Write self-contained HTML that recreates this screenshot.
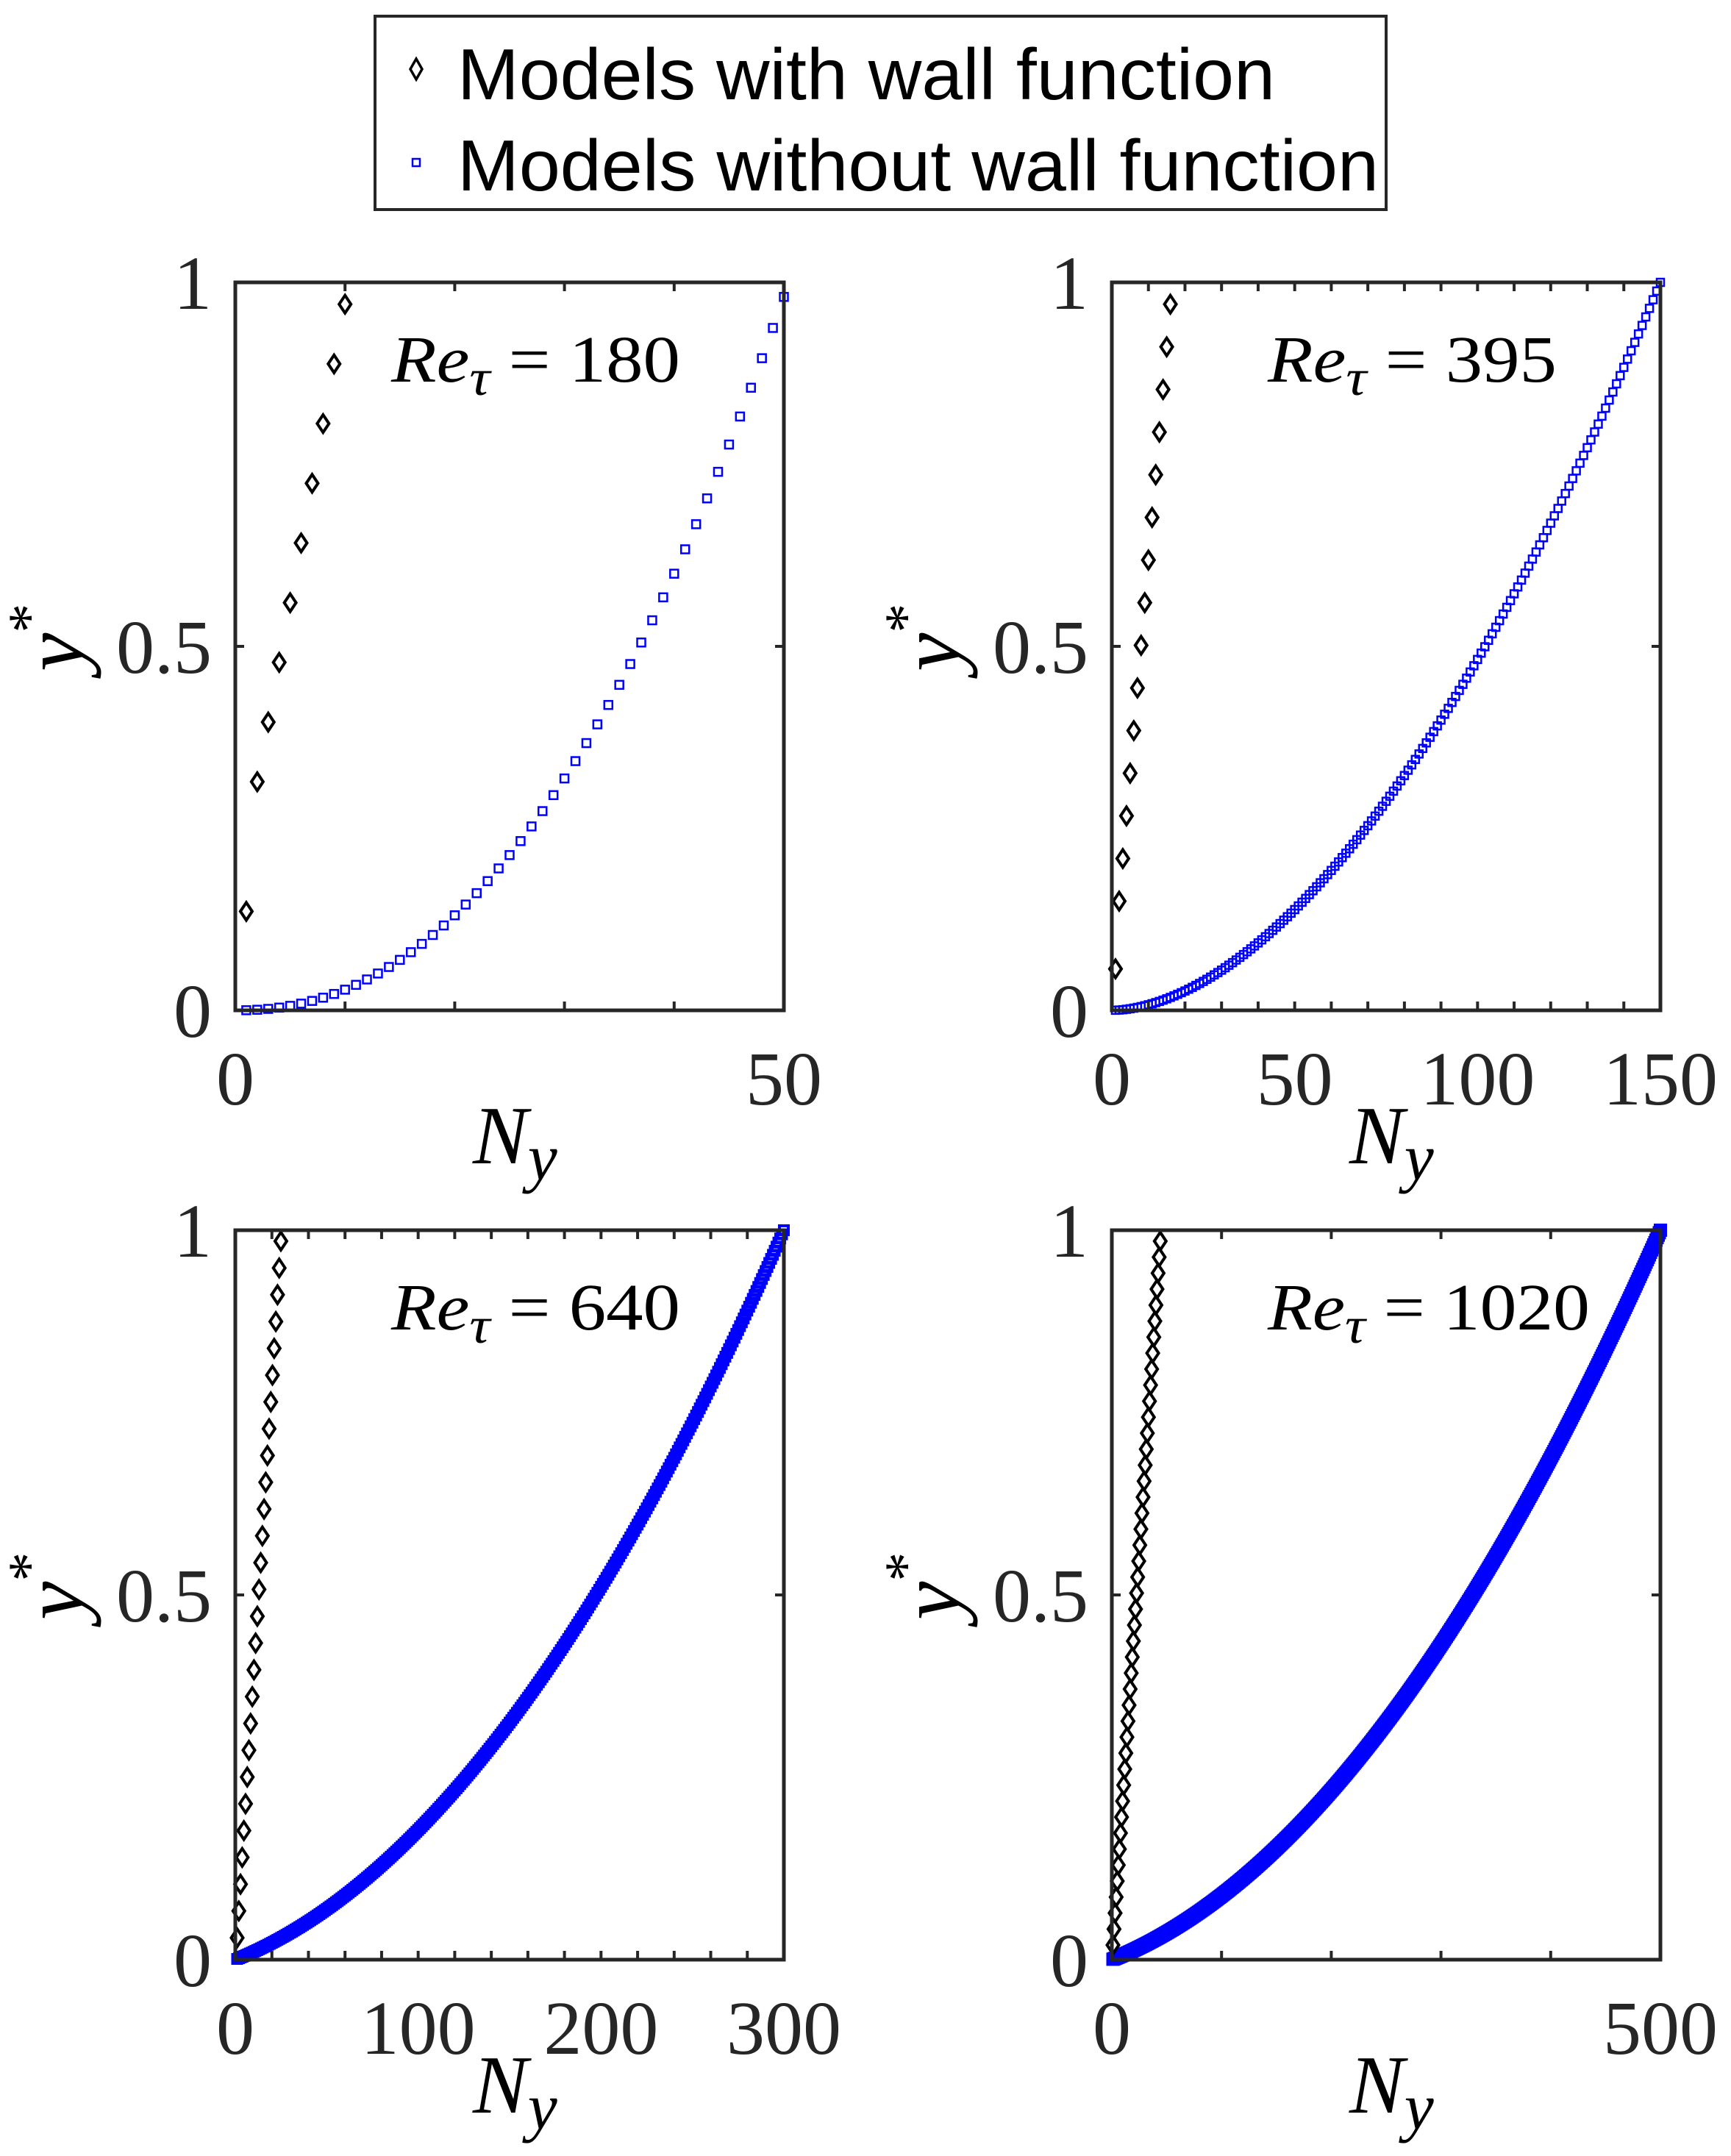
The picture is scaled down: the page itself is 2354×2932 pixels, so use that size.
<!DOCTYPE html>
<html><head><meta charset="utf-8"><style>html,body{margin:0;padding:0;background:#fff}svg{display:block}</style></head>
<body>
<svg id="s" xmlns="http://www.w3.org/2000/svg" width="2354" height="2932" viewBox="0 0 2354 2932">
<rect width="2354" height="2932" fill="#fff"/>
<rect x="510" y="22" width="1375" height="263" fill="#fff" stroke="#262626" stroke-width="4"/>
<path d="M566 80 L574 94 L566 108 L558 94 Z" fill="none" stroke="#000" stroke-width="3.5"/>
<rect x="561" y="216" width="10" height="10" fill="none" stroke="#0000ff" stroke-width="2.5"/>
<text x="622" y="135" font-family="Liberation Sans, sans-serif" font-size="98" textLength="1112" lengthAdjust="spacingAndGlyphs">Models with wall function</text>
<text x="622" y="259" font-family="Liberation Sans, sans-serif" font-size="98" textLength="1253" lengthAdjust="spacingAndGlyphs">Models without wall function</text>
<g id="g"></g>
</svg>
<script>
const g=document.getElementById('g');let h='';
const quad=t=>0.3*t+0.7*t*t;
const P=[
 {x0:320,x1:1066,t:384,b:1374,xmax:50,xt:10,xl:[0,50],re:'180',nd:10,nb:50,f:t=>0.98*Math.pow(t,2.2),dy0:0.136,dy1:0.314,sq:11,ylx:94,dstep:1},
 {x0:1512,x1:2258,t:384,b:1374,xmax:150,xt:10,xl:[0,50,100,150],re:'395',nd:16,nb:150,f:t=>Math.pow(t,1.8),dy0:0.057,dy1:0.15,sq:10,ylx:1286,dstep:1},
 {x0:320,x1:1066,t:1673,b:2665,xmax:300,xt:20,xl:[0,100,200,300],re:'640',nd:27,nb:300,f:quad,dy0:0.03,dy1:0.075,sq:12,ylx:94,dstep:0.92},
 {x0:1512,x1:2258,t:1673,b:2665,xmax:500,xt:100,xl:[0,500],re:'1020',nd:45,nb:500,f:quad,dy0:0.02,dy1:0.045,sq:14,ylx:1286,dstep:0.98}];
const ser='font-family="Liberation Serif, DejaVu Serif, serif"';
for(const q of P){
 const X=v=>q.x0+(q.x1-q.x0)*v/q.xmax, Y=v=>q.b-(q.b-q.t)*v;
 for(let i=1;i<=q.nb;i++){const t=i/q.nb;const x=X(i),y=Y(q.f(t));const s=q.sq;
  h+=`<rect x="${x-s/2}" y="${y-s/2}" width="${s}" height="${s}" fill="none" stroke="#0000ff" stroke-width="${q.nb>200?4:2.5}"/>`;}
 for(let i=0;i<q.nd;i++){let yv=i==0?q.dy0:q.dy1+(0.97-q.dy1)*(i-1)/(q.nd-2);if(q.nd>20)yv=q.dy0+(0.985-q.dy0)*i/(q.nd-1);
  const x=X(1+i*q.dstep),y=Y(yv);
  h+=`<path d="M${x} ${y-12} L${x+8} ${y} L${x} ${y+12} L${x-8} ${y} Z" fill="none" stroke="#000" stroke-width="4"/>`;}
 h+=`<rect x="${q.x0}" y="${q.t}" width="${q.x1-q.x0}" height="${q.b-q.t}" fill="none" stroke="#262626" stroke-width="5"/>`;
 for(let v=q.xt;v<q.xmax;v+=q.xt){const x=X(v);h+=`<line x1="${x}" y1="${q.b}" x2="${x}" y2="${q.b-12}" stroke="#262626" stroke-width="4"/><line x1="${x}" y1="${q.t}" x2="${x}" y2="${q.t+12}" stroke="#262626" stroke-width="4"/>`;}
 const ym=Y(0.5);h+=`<line x1="${q.x0}" y1="${ym}" x2="${q.x0+12}" y2="${ym}" stroke="#262626" stroke-width="4"/><line x1="${q.x1}" y1="${ym}" x2="${q.x1-12}" y2="${ym}" stroke="#262626" stroke-width="4"/>`;
 for(const [v,l] of [[0,'0'],[0.5,'0.5'],[1,'1']])h+=`<text x="${q.x0-32}" y="${Y(v)+36}" text-anchor="end" ${ser} font-size="104" fill="#262626">${l}</text>`;
 for(const v of q.xl)h+=`<text x="${X(v)}" y="${q.b+128}" text-anchor="middle" ${ser} font-size="104" fill="#262626">${v}</text>`;
 const cx=(q.x0+q.x1)/2;
 h+=`<text x="${cx-50}" y="${q.b+208}" ${ser} font-style="italic" font-size="112">N<tspan font-size="90" dy="22">y</tspan></text>`;
 h+=`<text transform="translate(${q.ylx+18},${ym+34}) rotate(-90)" text-anchor="start" ${ser} font-style="italic" font-size="118">y<tspan font-style="normal" font-size="80" dy="-46">*</tspan></text>`;
 h+=`<text x="${q.x0+212}" y="${q.t+135}" ${ser} font-size="90" textLength="${q.re.length>3?438:393}" lengthAdjust="spacingAndGlyphs"><tspan font-style="italic">Re</tspan><tspan font-style="italic" font-size="70" dy="18">τ</tspan><tspan dy="-18"> = ${q.re}</tspan></text>`;
}
g.innerHTML=h;
</script>
</body></html>
